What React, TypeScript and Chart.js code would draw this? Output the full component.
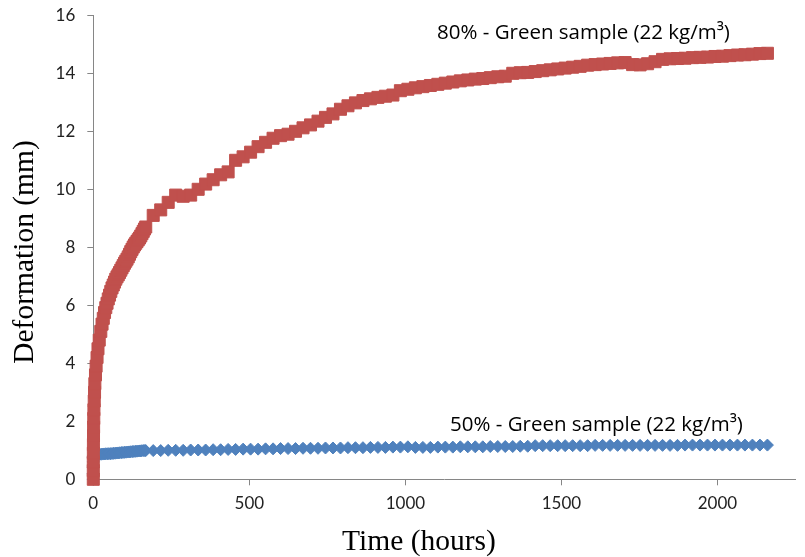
import React, { useEffect, useRef } from 'react';
import { Chart, registerables } from 'chart.js';
Chart.register(...registerables);

// Early readings (first week), hours and deformation (mm)
const earlyRedHours = [
  0, 0, 0, 0.2, 0.4, 0.7, 1, 1.5, 2, 3, 4, 5, 7, 9, 12, 15, 19,
  24, 28, 32, 36, 40, 44, 48, 52, 56, 60, 64, 68, 72, 76, 80, 84, 88, 92, 96,
  100, 104, 108, 112, 116, 120, 124, 128, 132, 136, 140, 144, 148, 152, 156, 160, 164,
];
const earlyRedDeformation = [
  0, 0.3, 0.6, 0.9, 1.2, 1.5, 1.8, 2.1, 2.4, 2.7, 3.0, 3.3, 3.6, 3.9, 4.2, 4.5, 4.8,
  5.1, 5.35, 5.55, 5.75, 5.92, 6.07, 6.22, 6.35, 6.48, 6.6, 6.7, 6.8, 6.9, 6.98, 7.05, 7.13, 7.21, 7.29, 7.37,
  7.45, 7.52, 7.59, 7.67, 7.76, 7.85, 7.93, 8.01, 8.08, 8.14, 8.2, 8.26, 8.32, 8.39, 8.47, 8.55, 8.63,
];

const earlyBlueHours = [
  0, 0, 0, 0, 0, 2, 5, 10, 15, 20, 25, 30, 35, 40, 45, 50, 55, 60, 65, 70, 75, 80,
  85, 90, 95, 100, 105, 110, 115, 120, 125, 130, 135, 140, 145, 150, 155, 160, 165,
];
const earlyBlueDeformation = [
  0, 0.2, 0.4, 0.6, 0.75, 0.82, 0.84, 0.85, 0.855, 0.86, 0.865, 0.87, 0.875, 0.88, 0.88, 0.885, 0.885, 0.89, 0.895, 0.9, 0.905, 0.91,
  0.915, 0.92, 0.925, 0.93, 0.935, 0.94, 0.945, 0.95, 0.955, 0.96, 0.965, 0.97, 0.975, 0.98, 0.985, 0.99, 0.99,
];

// Daily readings (hours)
const dailyHours = [
  168, 192, 216, 240, 264, 288, 312, 336, 360, 384,
  408, 432, 456, 480, 504, 528, 552, 576, 600, 624,
  648, 672, 696, 720, 744, 768, 792, 816, 840, 864,
  888, 912, 936, 960, 984, 1008, 1032, 1056, 1080, 1104,
  1128, 1152, 1176, 1200, 1224, 1248, 1272, 1296, 1320, 1344,
  1368, 1392, 1416, 1440, 1464, 1488, 1512, 1536, 1560, 1584,
  1608, 1632, 1656, 1680, 1704, 1728, 1752, 1776, 1800, 1824,
  1848, 1872, 1896, 1920, 1944, 1968, 1992, 2016, 2040, 2064,
  2088, 2112, 2136, 2160,
];

const dailyRedDeformation = [
  8.70, 9.10, 9.29, 9.55, 9.80, 9.76, 9.80, 10.00, 10.18, 10.33,
  10.50, 10.60, 11.00, 11.12, 11.28, 11.47, 11.62, 11.76, 11.85, 11.90,
  12.00, 12.12, 12.22, 12.35, 12.48, 12.60, 12.76, 12.88, 12.98, 13.06,
  13.12, 13.17, 13.21, 13.25, 13.40, 13.45, 13.50, 13.54, 13.58, 13.62,
  13.66, 13.70, 13.74, 13.77, 13.80, 13.82, 13.85, 13.88, 13.90, 14.00,
  14.02, 14.03, 14.06, 14.09, 14.12, 14.15, 14.18, 14.21, 14.24, 14.28,
  14.30, 14.32, 14.34, 14.36, 14.37, 14.30, 14.29, 14.33, 14.40, 14.48,
  14.50, 14.51, 14.52, 14.54, 14.55, 14.56, 14.58, 14.59, 14.61, 14.63,
  14.64, 14.66, 14.68, 14.69,
];

const dailyBlueDeformation = [
  0.99, 0.99, 0.99, 1.00, 1.00, 1.00, 1.01, 1.01, 1.01, 1.02,
  1.02, 1.03, 1.03, 1.04, 1.04, 1.04, 1.05, 1.05, 1.06, 1.06,
  1.06, 1.07, 1.07, 1.07, 1.08, 1.08, 1.08, 1.09, 1.09, 1.09,
  1.10, 1.10, 1.10, 1.11, 1.11, 1.12, 1.10, 1.10, 1.10, 1.11,
  1.11, 1.11, 1.12, 1.12, 1.12, 1.12, 1.13, 1.13, 1.13, 1.13,
  1.14, 1.14, 1.16, 1.16, 1.16, 1.16, 1.16, 1.16, 1.16, 1.16,
  1.17, 1.17, 1.17, 1.17, 1.17, 1.17, 1.17, 1.17, 1.17, 1.17,
  1.17, 1.17, 1.18, 1.18, 1.18, 1.18, 1.18, 1.18, 1.18, 1.18,
  1.18, 1.18, 1.18, 1.18,
];

const xTickValues = [0, 500, 1000, 1500, 2000];
const yTickValues = [0, 2, 4, 6, 8, 10, 12, 14, 16];

const redLabel = '80% - Green sample (22 kg/m³)';
const blueLabel = '50% - Green sample (22 kg/m³)';
const xTitle = 'Time (hours)';
const yTitle = 'Deformation (mm)';

const RED = '#C0504D';
const BLUE = '#4F81BD';
const AXIS = '#868686';

function zip(xs: number[], ys: number[]) {
  return xs.map((x, i) => ({ x, y: ys[i] }));
}

const textPlugin = {
  id: 'texts',
  afterDraw(chart: any) {
    const ctx = chart.ctx;
    ctx.save();
    ctx.fillStyle = '#000';
    ctx.font = '29.5px "Liberation Serif", "Times New Roman", serif';
    ctx.textAlign = 'center';
    ctx.textBaseline = 'middle';
    ctx.fillText(xTitle, 419, 542);
    ctx.save();
    ctx.translate(25, 252);
    ctx.rotate(-Math.PI / 2);
    ctx.fillText(yTitle, 0, 0);
    ctx.restore();

    ctx.font = '20.5px "Open Sans", Lato, sans-serif';
    ctx.textAlign = 'left';
    ctx.fillText(redLabel, 437, 33);
    ctx.fillText(blueLabel, 450, 425);
    ctx.restore();
  },
};

export default function App() {
  const ref = useRef<HTMLCanvasElement>(null);
  useEffect(() => {
    document.body.style.margin = '0';
    const tickFont = { family: 'Lato, "Open Sans", sans-serif', size: 17 };
    const chart = new Chart(ref.current as HTMLCanvasElement, {
      type: 'scatter',
      data: {
        datasets: [
          {
            label: redLabel,
            data: zip([...earlyRedHours, ...dailyHours], [...earlyRedDeformation, ...dailyRedDeformation]),
            pointStyle: 'rect',
            pointRadius: 8.5,
            pointBorderWidth: 1,
            backgroundColor: RED,
            borderColor: RED,
            showLine: false,
            clip: false,
          } as any,
          {
            label: blueLabel,
            data: zip([...earlyBlueHours, ...dailyHours], [...earlyBlueDeformation, ...dailyBlueDeformation]),
            pointStyle: 'rectRot',
            pointRadius: 6,
            pointBorderWidth: 1,
            backgroundColor: BLUE,
            borderColor: BLUE,
            showLine: false,
            clip: false,
          } as any,
        ],
      },
      options: {
        animation: false,
        responsive: false,
        maintainAspectRatio: false,
        events: [],
        layout: { padding: { top: 15.3, right: 4, left: 0, bottom: 0 } },
        plugins: { legend: { display: false }, tooltip: { enabled: false } },
        scales: {
          x: {
            type: 'linear',
            min: 0,
            max: 2250,
            afterBuildTicks: (s: any) => {
              s.ticks = xTickValues.map((v) => ({ value: v }));
            },
            afterFit: (s: any) => {
              s.height = 77.7;
              s.paddingLeft = 0;
              s.paddingRight = 0;
            },
            ticks: {
              color: '#222',
              font: tickFont,
              padding: 8,
              maxRotation: 0,
              autoSkip: false,
              callback: (v: any) => String(v),
            },
            grid: { display: true, drawOnChartArea: false, drawTicks: true, tickLength: 6, color: AXIS },
            border: { display: true, color: AXIS, width: 1 },
          },
          y: {
            type: 'linear',
            min: 0,
            max: 16,
            afterBuildTicks: (s: any) => {
              s.ticks = yTickValues.map((v) => ({ value: v }));
            },
            afterFit: (s: any) => {
              s.width = 93.3;
              s.paddingTop = 0;
              s.paddingBottom = 0;
            },
            ticks: { color: '#222', font: tickFont, padding: 12, autoSkip: false, callback: (v: any) => String(v) },
            grid: { display: true, drawOnChartArea: false, drawTicks: true, tickLength: 6, color: AXIS },
            border: { display: true, color: AXIS, width: 1 },
          },
        },
      },
      plugins: [textPlugin],
    });
    return () => chart.destroy();
  }, []);
  return (
    <div style={{ width: 805, height: 557 }}>
      <canvas ref={ref} width={805} height={557} style={{ display: 'block', width: 805, height: 557 }} />
    </div>
  );
}
